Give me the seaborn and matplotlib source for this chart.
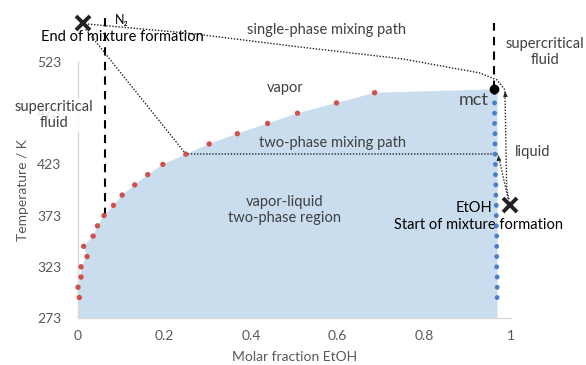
import numpy as np
import pandas as pd
import seaborn as sns
import matplotlib.pyplot as plt

sns.set_theme(style="white")
plt.rcParams['font.family'] = ['Lato', 'DejaVu Sans']

# ---- data ----
dew_T = [293, 303, 313, 323, 333, 343, 353, 363, 373, 383, 393, 403, 413, 423,
         433, 443, 453, 463, 473, 483, 493]
dew_x = [0.003, 0.000, 0.007, 0.007, 0.021, 0.013, 0.035, 0.045, 0.060, 0.082,
         0.102, 0.131, 0.161, 0.196, 0.249, 0.303, 0.368, 0.438, 0.507, 0.597, 0.685]
bub_T = [293, 303, 313, 323, 333, 343, 353, 363, 373, 383, 393, 403, 413, 423,
         433, 443, 453, 463, 473, 483, 493]
bub_x = [0.968, 0.968, 0.968, 0.967, 0.967, 0.967, 0.967, 0.966, 0.966, 0.966,
         0.965, 0.965, 0.964, 0.964, 0.963, 0.963, 0.963, 0.962, 0.962, 0.962, 0.962]
mct_x, mct_T = 0.961, 496.3
end_x, end_T = 0.012, 561.0
start_x, start_T = 0.998, 383.5
n2_x = 0.062
single_path_x = [0.023, 0.252, 0.513, 0.75, 0.928, 0.968, 0.986, 0.990, 0.996]
single_path_T = [560.0, 551.3, 537.6, 526.0, 512.3, 505.4, 495.7, 400.0, 387.0]
two_path_x = [0.018, 0.249, 0.962, 0.970, 0.994]
two_path_T = [555.0, 433.2, 433.2, 433.2, 388.0]
xticks = [0, 0.2, 0.4, 0.6, 0.8, 1]
xticklabels = ['0', '0.2', '0.4', '0.6', '0.8', '1']
yticks = [273, 323, 373, 423, 473, 523]

dew = pd.DataFrame({'x': dew_x, 'T': dew_T})
bub = pd.DataFrame({'x': bub_x, 'T': bub_T})

fig = plt.figure(figsize=(5.86, 3.65), dpi=100)
ax = fig.add_axes([78/586, 47/365, 433/586, 256/365])

# two-phase region fill
poly_x = [0.0] + dew_x + [mct_x, max(bub_x) + 0.001, max(bub_x) + 0.001]
poly_T = [273.0] + dew_T + [mct_T, mct_T - 3, 273.0]
poly_x[1] = 0.0
ax.fill(poly_x, poly_T, color='#c9ddee', lw=0, zorder=1)

sns.scatterplot(data=dew, x='x', y='T', color='#d0504c', s=15, edgecolor='none', ax=ax, zorder=4, clip_on=False)
sns.scatterplot(data=bub, x='x', y='T', color='#4a7fc8', s=12, edgecolor='none', ax=ax, zorder=4, clip_on=False)
ax.plot([mct_x], [mct_T], 'o', color='black', ms=6, zorder=6, clip_on=False)

# dashed verticals
ax.plot([n2_x, n2_x], [373, 572], color='black', lw=1.5, ls=(0, (4, 3)), clip_on=False, zorder=3)
ax.plot([mct_x, mct_x], [mct_T, 561], color='black', lw=1.5, ls=(0, (4, 3)), clip_on=False, zorder=3)

# mixing paths
ax.plot(single_path_x, single_path_T, color='#222222', lw=1.0, ls=(0, (1, 1.2)), clip_on=False, zorder=3)
ax.plot(two_path_x, two_path_T, color='#222222', lw=1.0, ls=(0, (1, 1.2)), clip_on=False, zorder=3)
for (x0, y0, x1, y1) in [(0.987, 490, 0.986, 496.5), (0.972, 427, 0.970, 434)]:
    ax.annotate('', xy=(x1, y1), xytext=(x0, y0),
                arrowprops=dict(arrowstyle='-|>', color='#222222', lw=0.8, mutation_scale=6),
                annotation_clip=False)

# X markers
ax.plot([end_x], [end_T], marker='x', color='#222222', ms=10, mew=2.8, ls='none', clip_on=False, zorder=6)
ax.plot([start_x], [start_T], marker='x', color='#222222', ms=10, mew=2.8, ls='none', clip_on=False, zorder=6)

# axes styling
ax.set_xlim(0, 1)
ax.set_ylim(273, 523)
ax.set_xticks(xticks)
ax.set_xticklabels(xticklabels)
ax.set_yticks(yticks)
for s in ['top', 'right']:
    ax.spines[s].set_visible(False)
for s in ['left', 'bottom']:
    ax.spines[s].set_color('#d9d9d9')
    ax.spines[s].set_linewidth(1.0)
ax.tick_params(axis='both', length=0, labelsize=10, labelcolor='#595959')
ax.tick_params(axis='y', pad=12)
ax.tick_params(axis='x', pad=9)
ax.set_xlabel('Molar fraction EtOH', fontsize=10, color='#595959', labelpad=6)
ax.set_ylabel('Temperature / K', fontsize=10, color='#595959', labelpad=6)

tc = '#404040'
fs = 10.5
ax.text(0.575, 554.3, 'single-phase mixing path', ha='center', va='center', fontsize=fs, color=tc)
ax.text(0.478, 497.6, 'vapor', ha='center', va='center', fontsize=fs, color=tc)
ax.text(0.587, 443.9, 'two-phase mixing path', ha='center', va='center', fontsize=fs, color=tc)
ax.text(0.478, 378.5, 'vapor-liquid\ntwo-phase region', ha='center', va='center', fontsize=fs, color=tc, linespacing=1.2)
ax.text(0.948, 485.9, 'mct', ha='right', va='center', fontsize=13, color=tc)
ax.text(-0.055, 471.2, 'supercritical\nfluid', ha='center', va='center', fontsize=fs, color=tc, linespacing=1.2,
        bbox=dict(facecolor='white', edgecolor='none', alpha=0.85, pad=1), clip_on=False)
ax.text(1.078, 532.8, 'supercritical\nfluid', ha='center', va='center', fontsize=fs, color=tc, linespacing=1.2, clip_on=False)
ax.text(1.051, 435.0, 'liquid', ha='center', va='center', fontsize=fs, color=tc, clip_on=False)
ax.text(0.085, 564.0, 'N₂', ha='left', va='center', fontsize=9, color='black', clip_on=False)
ax.text(0.102, 547.4, 'End of mixture formation', ha='center', va='center', fontsize=fs, color='black', clip_on=False)
ax.text(0.958, 380.4, 'EtOH', ha='right', va='center', fontsize=fs, color='black')
ax.text(0.924, 363.8, 'Start of mixture formation', ha='center', va='center', fontsize=fs, color='black', clip_on=False)

fig.savefig('out.png', dpi=100)
